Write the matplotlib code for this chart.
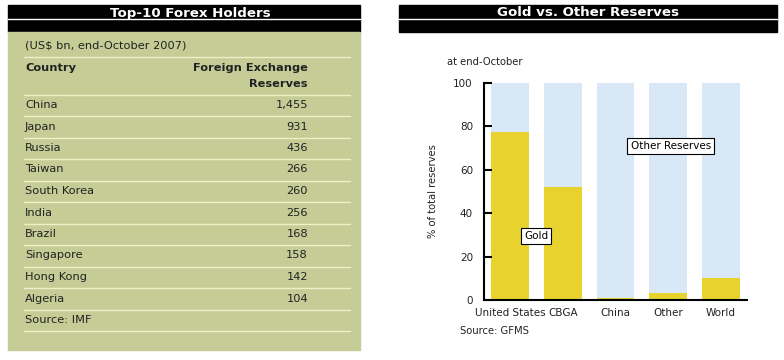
import matplotlib.pyplot as plt
from matplotlib.patches import Rectangle

# table data
countries = ['China', 'Japan', 'Russia', 'Taiwan', 'South Korea', 'India',
             'Brazil', 'Singapore', 'Hong Kong', 'Algeria']
fx_reserves = ['1,455', '931', '436', '266', '260', '256', '168', '158', '142', '104']

# bar chart data
holders = ['United States', 'CBGA', 'China', 'Other', 'World']
gold_pct = [77.5, 52, 1, 3, 10]
other_pct = [100 - g for g in gold_pct]

green = '#c5cc96'
rule = '#eef0c6'
gold_col = '#e8d22e'
blue_col = '#d8e8f6'

fig = plt.figure(figsize=(7.84, 3.6), dpi=100)
bg = fig.add_axes([0, 0, 1, 1])
bg.set_xlim(0, 784)
bg.set_ylim(360, 0)
bg.axis('off')

# ---- left panel: table ----
bg.add_patch(Rectangle((8, 5), 352, 27, color='black'))
bg.plot([8, 360], [18.5, 18.5], color='white', lw=1)
bg.text(190, 13, 'Top-10 Forex Holders', color='white', fontsize=9.6,
        fontweight='bold', ha='center', va='center')
bg.add_patch(Rectangle((8, 32), 352, 318, color=green))

bg.text(25, 45, '(US$ bn, end-October 2007)', fontsize=8.2, va='center', color='#222222')
bg.plot([24, 350], [57, 57], color=rule, lw=1)
bg.text(25, 68, 'Country', fontsize=8.2, fontweight='bold', va='center', color='#222222')
bg.text(308, 68, 'Foreign Exchange', fontsize=8.2, fontweight='bold', va='center',
        ha='right', color='#222222')
bg.text(308, 84, 'Reserves', fontsize=8.2, fontweight='bold', va='center',
        ha='right', color='#222222')
bg.plot([24, 350], [95, 95], color=rule, lw=1)

row_h = 21.5
y0 = 105
for i, (c, v) in enumerate(zip(countries, fx_reserves)):
    y = y0 + i * row_h
    bg.text(25, y, c, fontsize=8.2, va='center', color='#222222')
    bg.text(308, y, v, fontsize=8.2, va='center', ha='right', color='#222222')
    bg.plot([24, 350], [y + 11, y + 11], color=rule, lw=1)
ys = y0 + len(countries) * row_h
bg.text(25, ys, 'Source: IMF', fontsize=8.2, va='center', color='#222222')
bg.plot([24, 350], [ys + 11, ys + 11], color=rule, lw=1)

# ---- right panel: bar chart ----
bg.add_patch(Rectangle((399, 5), 378, 27, color='black'))
bg.plot([399, 777], [18.5, 18.5], color='white', lw=1)
bg.text(588, 13, 'Gold vs. Other Reserves', color='white', fontsize=9.6,
        fontweight='bold', ha='center', va='center')
bg.text(447, 62, 'at end-October', fontsize=7.2, va='center', color='#222222')
bg.text(460, 331, 'Source: GFMS', fontsize=7.2, va='center', color='#222222')

ax = fig.add_axes([484 / 784, 1 - 300 / 360, 263 / 784, 217 / 360])
x = range(len(holders))
ax.bar(x, gold_pct, width=0.72, color=gold_col)
ax.bar(x, other_pct, width=0.72, bottom=gold_pct, color=blue_col)
ax.set_xlim(-0.5, 4.5)
ax.set_ylim(0, 100)
ax.set_yticks([0, 20, 40, 60, 80, 100])
ax.set_xticks(list(x))
ax.set_xticklabels(holders)
for s in ['top', 'right']:
    ax.spines[s].set_visible(False)
for s in ['left', 'bottom']:
    ax.spines[s].set_linewidth(1.5)
ax.tick_params(axis='y', direction='in', length=6, width=1.5, pad=8,
               labelsize=7.5, labelcolor='#222222')
ax.tick_params(axis='x', length=0, pad=6, labelsize=7.5, labelcolor='#222222')
ax.set_ylabel('% of total reserves', fontsize=7.2, labelpad=11, color='#222222')

box = dict(boxstyle='square,pad=0.3', facecolor='white', edgecolor='black', lw=0.8)
ax.text(3.05, 71, 'Other Reserves', fontsize=7.5, ha='center', va='center', bbox=box)
ax.text(0.49, 29.5, 'Gold', fontsize=7.5, ha='center', va='center', bbox=box)

fig.savefig('out.png', dpi=100)
